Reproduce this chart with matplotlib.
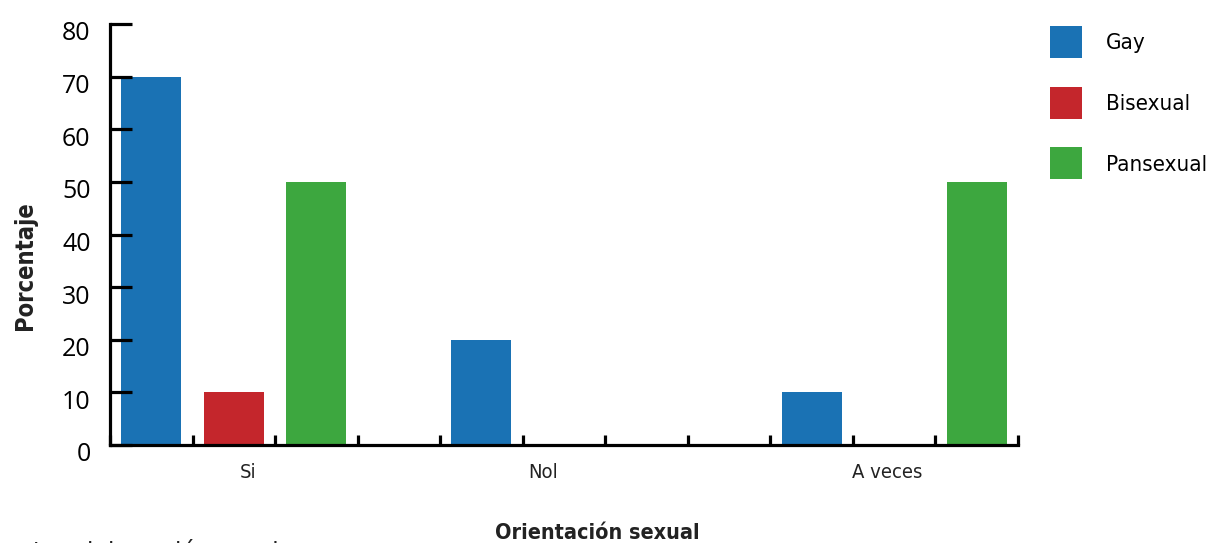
import numpy as np
import matplotlib
matplotlib.use("Agg")
import matplotlib.pyplot as plt
from matplotlib.transforms import ScaledTranslation

# data
categories = ["Si", "Nol", "A veces"]
series = ["Gay", "Bisexual", "Pansexual"]
gay = [70, 20, 10]
bisexual = [10, 0, 0]
pansexual = [50, 0, 50]
colors = ["#1a72b4", "#c4262c", "#3da73f"]
yticks = [0, 10, 20, 30, 40, 50, 60, 70, 80]
# category label positions (in bar-slot units)
cat_pos = [1.17, 4.75, 8.91]

plt.rcParams['font.family'] = ["DejaVu Sans"]
plt.rcParams['font.stretch'] = "condensed"

fig = plt.figure(figsize=(12.09, 5.43), dpi=100)
ax = fig.add_axes([110 / 1209, 1 - 445 / 543, 908 / 1209, 421 / 543])

values = [gay, bisexual, pansexual]
width = 0.727
handles = []
for s, (name, vals, col) in enumerate(zip(series, values, colors)):
    xs = [4 * g + s for g in range(len(categories))]
    b = ax.bar(xs, vals, width=width, color=col, label=name, zorder=1)
    handles.append(b)

ax.set_xlim(-0.5, 10.5)
ax.set_ylim(0, 80)

for side in ["top", "right"]:
    ax.spines[side].set_visible(False)
for side in ["left", "bottom"]:
    ax.spines[side].set_linewidth(2.3)
    ax.spines[side].set_zorder(3)

# y axis
ax.set_yticks(yticks)
ax.set_yticklabels([str(v) for v in yticks], family="Open Sans", stretch="normal", fontsize=18)
ax.tick_params(axis="y", direction="in", length=16, width=2.3, pad=14)
for lab in ax.get_yticklabels():
    lab.set_transform(lab.get_transform() + ScaledTranslation(0, -5 / 72, fig.dpi_scale_trans))

# x axis: ticks at slot edges, labels on minor ticks
ax.set_xticks(np.arange(-0.5, 11, 1.0))
ax.set_xticklabels([])
ax.set_xticks(cat_pos, minor=True)
ax.set_xticklabels(categories, minor=True, fontsize=14.5, color="#222222")
ax.tick_params(axis="x", which="major", direction="in", length=7, width=2.3)
ax.tick_params(axis="x", which="minor", length=0, pad=13)

ax.set_xlabel("Orientación sexual", fontsize=15.5, fontweight="bold", color="#222222", va="baseline")
ax.xaxis.set_label_coords(0.537, -0.223)
ax.set_ylabel("Porcentaje", fontsize=17, fontweight="bold", color="#222222", va="center")
ax.yaxis.set_label_coords(-0.0936, 0.425)

ax.legend(handles=handles, loc="upper left", bbox_to_anchor=(1050 / 1209, 1 - 26 / 543),
          bbox_transform=fig.transFigure, frameon=False, fontsize=16,
          handlelength=1.44, handleheight=1.84, handletextpad=1.08,
          labelspacing=1.29, borderpad=0, borderaxespad=0)

# source note, cut off by the bottom edge as in the reference
fig.text(-24 / 1209, 1 - 561 / 543, "Fuente: elaboración propia", fontsize=19,
         va="baseline", ha="left", color="#222222")

fig.savefig("out.png", dpi=100)
